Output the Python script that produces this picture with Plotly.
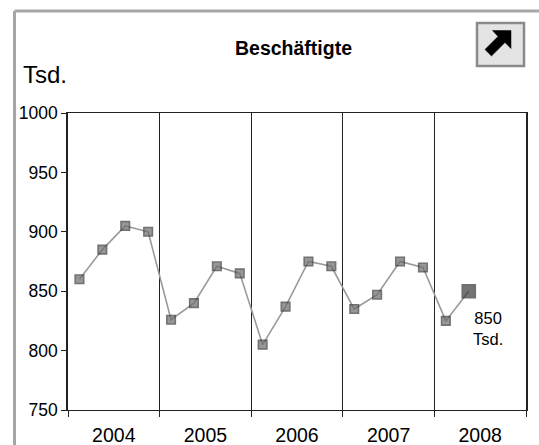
import plotly.graph_objects as go

# ---- data ----
years = ["2004", "2005", "2006", "2007", "2008"]
quarters = ["Q1", "Q2", "Q3", "Q4"]
values = [860, 885, 905, 900,
          826, 840, 871, 865,
          805, 837, 875, 871,
          835, 847, 875, 870,
          825, 850]
y_ticks = [750, 800, 850, 900, 950, 1000]
title_text = "Beschäftigte"
unit_text = "Tsd."

# ---- layout geometry ----
W, H = 539, 445
L, R, T, B = 68, 13, 113, 35
PW, PH = W - L - R, H - T - B


def px(x):
    return (x - L) / PW


def py(y):
    return (H - B - y) / PH


n = len(values)
xs = list(range(n))
n_slots = len(years) * len(quarters)
year_centers = [i * 4 + 1.5 for i in range(len(years))]
year_bounds = [i * 4 - 0.5 for i in range(len(years) + 1)]

sizes = [8.5] * (n - 1) + [13]
fills = ["#6c6c6c"] * (n - 1) + ["#3a3a3a"]
borders = ["#383838"] * (n - 1) + ["#333333"]

fig = go.Figure()
fig.add_trace(go.Scatter(
    x=xs, y=values, mode="lines+markers",
    line=dict(color="#9a9a9a", width=1.6),
    marker=dict(symbol="square", size=sizes, color=fills,
                line=dict(color=borders, width=1.6)),
    hoverinfo="skip", showlegend=False,
))

FONT = "Liberation Sans, Arial, sans-serif"

fig.update_layout(
    width=W, height=H,
    margin=dict(l=L, r=R, t=T, b=B, pad=0, autoexpand=False),
    paper_bgcolor="white", plot_bgcolor="white",
    font=dict(family=FONT, color="black"),
    showlegend=False,
    xaxis=dict(
        range=[-0.5, n_slots - 0.5], automargin=False,
        tickmode="array", tickvals=year_centers, ticktext=years,
        ticks="outside", ticklen=7, tickcolor="rgba(0,0,0,0)",
        tickfont=dict(size=19.5, family=FONT, color="black"),
        showgrid=False, zeroline=False,
        showline=True, linecolor="#222", linewidth=1.2, mirror=True,
        minor=dict(tickmode="array", tickvals=year_bounds,
                   ticks="outside", ticklen=6, tickcolor="#222", tickwidth=1,
                   showgrid=True, gridcolor="#222", gridwidth=1),
        fixedrange=True,
    ),
    yaxis=dict(
        range=[750, 1000], automargin=False,
        tickmode="array", tickvals=y_ticks,
        ticks="outside", ticklen=5, tickcolor="#222",
        tickfont=dict(size=17.5, family=FONT, color="black"),
        showgrid=False, zeroline=False,
        showline=True, linecolor="#222", linewidth=1.6, mirror=True,
        fixedrange=True,
    ),
)

annotations = [
    dict(text="<b>" + title_text + "</b>", x=px(293), y=py(48),
         xref="paper", yref="paper", xanchor="center", yanchor="middle",
         showarrow=False, font=dict(size=19.5, family=FONT, color="black")),
    dict(text=unit_text, x=px(21), y=py(74),
         xref="paper", yref="paper", xanchor="left", yanchor="middle",
         showarrow=False, font=dict(size=24, family=FONT, color="black")),
    dict(text=f"{values[-1]}<br>{unit_text}", x=xs[-1], y=values[-1],
         xref="x", yref="y", xanchor="center", yanchor="middle",
         xshift=19, yshift=-37, showarrow=False, align="center",
         font=dict(size=16.5, family=FONT, color="black")),
]
fig.update_layout(annotations=annotations)

frame = dict(color="#a6a6a6", width=3)
shapes = [
    # outer frame: left and top edges
    dict(type="line", xref="paper", yref="paper",
         x0=px(14.5), y0=py(445), x1=px(14.5), y1=py(11), line=frame, layer="below"),
    dict(type="line", xref="paper", yref="paper",
         x0=px(14.5), y0=py(11), x1=px(539), y1=py(11), line=frame, layer="below"),
    # icon box
    dict(type="rect", xref="paper", yref="paper",
         x0=px(477), y0=py(66), x1=px(524), y1=py(23),
         line=dict(color="#8a8a8a", width=2.5), fillcolor="#e4e4e4"),
]
arrow_pts = [(511, 30.5), (492.5, 30.5), (498, 36.5), (485, 49.5),
             (491.5, 56), (505, 42.5), (511, 48.5)]
path = "M " + " L ".join(f"{px(a):.5f},{py(b):.5f}" for a, b in arrow_pts) + " Z"
shapes.append(dict(type="path", xref="paper", yref="paper", path=path,
                   fillcolor="black", line=dict(color="black", width=0.5)))
fig.update_layout(shapes=shapes)

fig.write_html(
    "out.html",
    config={"displayModeBar": False},
    post_script="document.body.style.margin='0';document.body.style.overflow='hidden';",
)
